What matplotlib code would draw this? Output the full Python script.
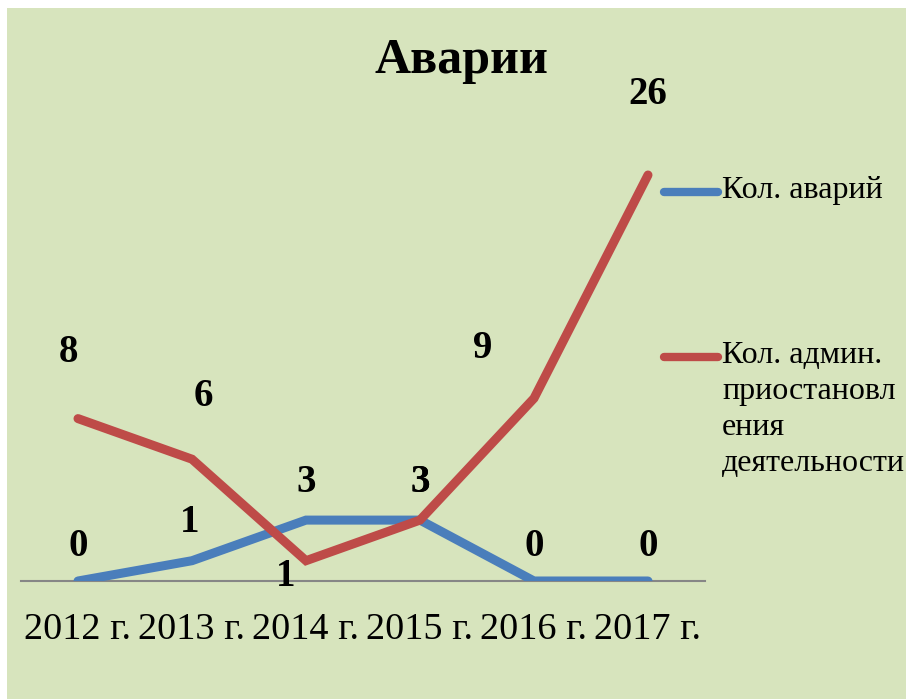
import matplotlib.pyplot as plt
from matplotlib.lines import Line2D
from matplotlib.patches import Rectangle

# Данные

years = ["2012 г.", "2013 г.", "2014 г.", "2015 г.", "2016 г.", "2017 г."]
accidents = [0, 1, 3, 3, 0, 0]
suspensions = [8, 6, 1, 3, 9, 20]
suspension_labels = ["8", "6", "1", "3", "9", "26"]

# Подписи: сдвиги в пикселях от точки
acc_offsets = [(0, 35), (-2, 38), (0, 38), (0, 38), (0, 35), (0, 35)]
sus_offsets = [(-10, 66), (11, 63), (-20, -16), (0, 38), (-51, 50), (0, 80)]

BG = "#D7E4BD"
BLUE = "#4A7EBB"
RED = "#BE4B48"
FONT = "Liberation Serif"

W, H = 906, 699

fig = plt.figure(figsize=(W / 100, H / 100), dpi=100)
fig.patch.set_facecolor("white")
fig.add_artist(Rectangle((7 / W, 0), 1 - 7 / W, 1 - 8 / H,
                         transform=fig.transFigure, facecolor=BG,
                         edgecolor="none", zorder=0))

ax = fig.add_axes([21 / W, (H - 581) / H, 684 / W, 480 / H])
ax.set_facecolor("none")

x = list(range(len(years)))
ax.plot(x, accidents, color=BLUE, lw=6.5, solid_capstyle="round",
        solid_joinstyle="miter", zorder=3)
ax.plot(x, suspensions, color=RED, lw=6.5, solid_capstyle="round",
        solid_joinstyle="miter", zorder=3)

for i, v in enumerate(accidents):
    ax.annotate(str(v), (i, v), xytext=acc_offsets[i], textcoords="offset pixels",
                ha="center", va="center", fontsize=28, fontweight="bold",
                family=FONT, zorder=4)

for i, v in enumerate(suspensions):
    ax.annotate(suspension_labels[i], (i, v), xytext=sus_offsets[i],
                textcoords="offset pixels", ha="center", va="center",
                fontsize=28, fontweight="bold", family=FONT, zorder=4)

ax.set_xlim(-0.5, len(years) - 0.5)
ax.set_ylim(0, 480 / 20.3)
ax.set_xticks(x)
ax.set_xticklabels(years, family=FONT, fontsize=27.5)
ax.tick_params(axis="x", length=0, pad=23)
ax.set_yticks([])
for side in ["top", "left", "right"]:
    ax.spines[side].set_visible(False)
ax.spines["bottom"].set_color("#868686")
ax.spines["bottom"].set_linewidth(1.5)

fig.text(461 / W, 1 - 61 / H, "Аварии", ha="center", va="center",
         fontsize=36, fontweight="bold", family=FONT)

# Легенда
legend_items = [
    (BLUE, "Кол. аварий", 192),
    (RED, "Кол. админ.\nприостановл\nения\nдеятельности", 357),
]
for color, text, y in legend_items:
    fig.add_artist(Line2D([664 / W, 718 / W], [1 - y / H, 1 - y / H],
                          transform=fig.transFigure, color=color, lw=6,
                          solid_capstyle="round"))
    fig.text(722 / W, 1 - (y - 16) / H, text, ha="left", va="top",
             fontsize=23, family=FONT, linespacing=1.32)

fig.savefig("out.png", dpi=100, facecolor=fig.get_facecolor())
